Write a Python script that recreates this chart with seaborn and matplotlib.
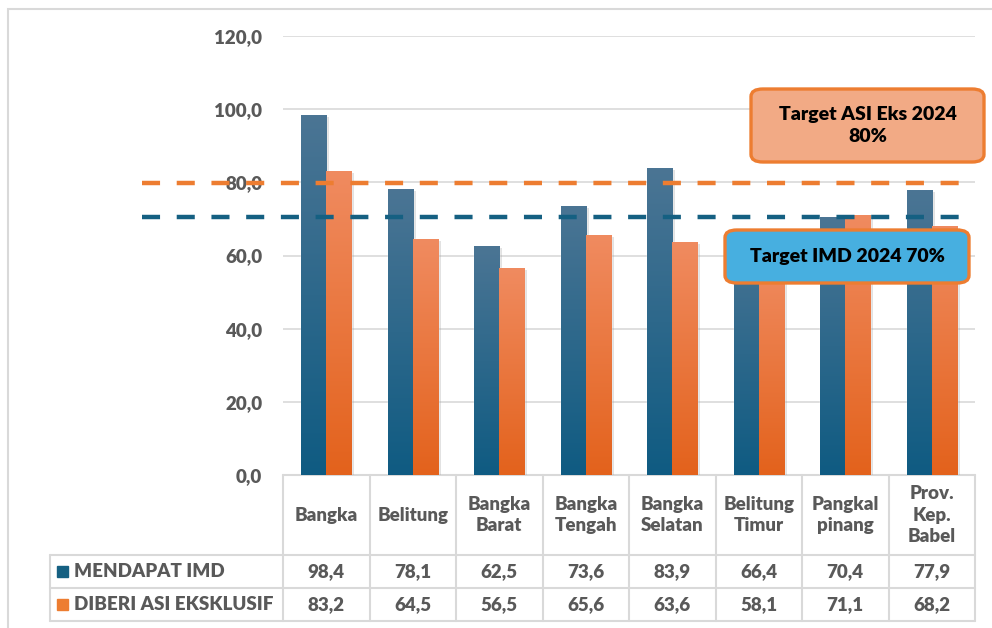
import pandas as pd
import numpy as np
import matplotlib
matplotlib.use('Agg')
import matplotlib.pyplot as plt
import seaborn as sns
from matplotlib.patches import Rectangle, FancyBboxPatch
from matplotlib.colors import LinearSegmentedColormap
from matplotlib.ticker import FuncFormatter
import matplotlib.patheffects as pe

# ---- DATA ----
kabupaten = ["Bangka", "Belitung", "Bangka\nBarat", "Bangka\nTengah", "Bangka\nSelatan",
             "Belitung\nTimur", "Pangkal\npinang", "Prov.\nKep.\nBabel"]
imd = [98.4, 78.1, 62.5, 73.6, 83.9, 66.4, 70.4, 77.9]
asi = [83.2, 64.5, 56.5, 65.6, 63.6, 58.1, 71.1, 68.2]
series = ["MENDAPAT IMD", "DIBERI ASI EKSKLUSIF"]
target_asi = 80
target_imd = 70
label_asi = "Target ASI Eks 2024\n80%"
label_imd = "Target IMD 2024 70%"

df = pd.DataFrame({
    'kab': kabupaten * 2,
    'nilai': imd + asi,
    'seri': [series[0]] * len(imd) + [series[1]] * len(asi),
})

# ---- STILE ----
sns.set_style('white')
plt.rcParams['font.family'] = ['Lato', 'DejaVu Sans']
plt.rcParams['lines.scale_dashes'] = False
grigio = '#595959'
linea = '#d9d9d9'
blu = '#156082'
arancio = '#ed7d31'
fs = 13.5
peso = 'heavy'

W, H = 992, 628
fig = plt.figure(figsize=(W / 100, H / 100), dpi=100)
ax = fig.add_axes([283 / W, 1 - 475 / H, 692 / W, 439 / H])

sns.barplot(data=df, x='kab', y='nilai', hue='seri', hue_order=series,
            palette=[blu, arancio], width=0.58, legend=False, ax=ax,
            saturation=1, zorder=3)

ax.set_xlim(-0.5, len(kabupaten) - 0.5)
ax.set_ylim(0, 120)
ax.set_yticks(range(0, 121, 20))
ax.yaxis.set_major_formatter(FuncFormatter(lambda v, p: f"{v:.1f}".replace('.', ',')))
ax.tick_params(axis='y', length=0, pad=15, labelsize=fs, labelcolor=grigio)
for t in ax.get_yticklabels():
    t.set_fontweight(peso)
ax.set_xticks([])
ax.set_xlabel('')
ax.set_ylabel('')
for s in ax.spines.values():
    s.set_visible(False)
ax.grid(axis='y', color=linea, linewidth=1.2, zorder=0)
ax.set_axisbelow(True)

# ---- GRADIENTE BARRE ----
cm_blu = LinearSegmentedColormap.from_list('b', ['#0f5b82', '#4b7594'])
cm_ara = LinearSegmentedColormap.from_list('o', ['#e3621c', '#f08b60'])
grad = np.linspace(0, 1, 256).reshape(-1, 1)
for cont, cmap in zip(ax.containers, [cm_blu, cm_ara]):
    for bar in cont:
        x0, w, h = bar.get_x(), bar.get_width(), bar.get_height()
        bar.set_path_effects([pe.SimplePatchShadow(offset=(2, -1.5), shadow_rgbFace='#a0a0a0', alpha=0.3),
                              pe.Normal()])
        im = ax.imshow(grad, extent=[x0, x0 + w, 0, h], origin='lower', aspect='auto',
                       cmap=cmap, zorder=4)
        im.set_clip_path(bar)
ax.set_xlim(-0.5, len(kabupaten) - 0.5)
ax.set_ylim(0, 120)
ax.set_aspect('auto')

# ---- LINEE TARGET ----
ax.axhline(target_asi - 0.2, xmin=-0.204, xmax=1, color=arancio, lw=3.2,
           dashes=(13, 12), clip_on=False, zorder=5)
ax.axhline(target_imd + 0.4, xmin=-0.204, xmax=1, color=blu, lw=3.2,
           dashes=(13, 12), clip_on=False, zorder=5)

# ---- TABELLA DATI ----
n = len(kabupaten)
tr = ax.transAxes
y_head, y_r1, y_r2 = -80 / 439, -113 / 439, -146 / 439
x_lab = (50 - 283) / 692
kw = dict(transform=tr, clip_on=False, color=linea, lw=1.5, zorder=1)
ax.plot([0, 1], [0, 0], **kw)
for yy in [y_head, y_r1, y_r2]:
    ax.plot([x_lab, 1], [yy, yy], **kw)
for i in range(n + 1):
    ax.plot([i / n, i / n], [0, y_r2], **kw)
ax.plot([x_lab, x_lab], [y_head, y_r2], **kw)

tkw = dict(transform=tr, ha='center', va='center', fontsize=fs, fontweight=peso,
           color=grigio, linespacing=1.3)
for i, k in enumerate(kabupaten):
    xc = (i + 0.5) / n
    ax.text(xc, y_head / 2, k, **tkw)
    ax.text(xc, (y_head + y_r1) / 2, f"{imd[i]:.1f}".replace('.', ','), **tkw)
    ax.text(xc, (y_r1 + y_r2) / 2, f"{asi[i]:.1f}".replace('.', ','), **tkw)

for nome, col, (ya, yb) in zip(series, [blu, arancio], [(y_head, y_r1), (y_r1, y_r2)]):
    ym = (ya + yb) / 2
    ax.add_patch(Rectangle(((57 - 283) / 692, ym - 5.5 / 439), 11 / 692, 11 / 439,
                           transform=tr, clip_on=False, color=col))
    ax.text((74 - 283) / 692, ym, nome, transform=tr, ha='left', va='center',
            fontsize=fs, fontweight=peso, color=grigio)

# ---- BOX TARGET ----
def box(x0, y0, x1, y1, fc, testo):
    p = FancyBboxPatch((x0 / W, 1 - y1 / H), (x1 - x0) / W, (y1 - y0) / H,
                       boxstyle='round,pad=0,rounding_size=0.012', transform=fig.transFigure,
                       facecolor=fc, edgecolor=arancio, lw=2.4, zorder=10)
    fig.add_artist(p)
    fig.text((x0 + x1) / 2 / W, 1 - (y0 + y1) / 2 / H, testo, ha='center', va='center',
             fontsize=14, fontweight=peso, color='black', linespacing=1.4, zorder=11)

box(751, 89, 984, 162, '#f2aa85', label_asi)
box(725, 230, 969, 283, '#47afe0', label_imd)

# ---- BORDO ----
fig.add_artist(Rectangle((8 / W, -0.1), 1.1, 1 - 9 / H + 0.1, transform=fig.transFigure,
                         fill=False, edgecolor=linea, lw=1.5))

fig.savefig('out.png', dpi=100, facecolor='white')
